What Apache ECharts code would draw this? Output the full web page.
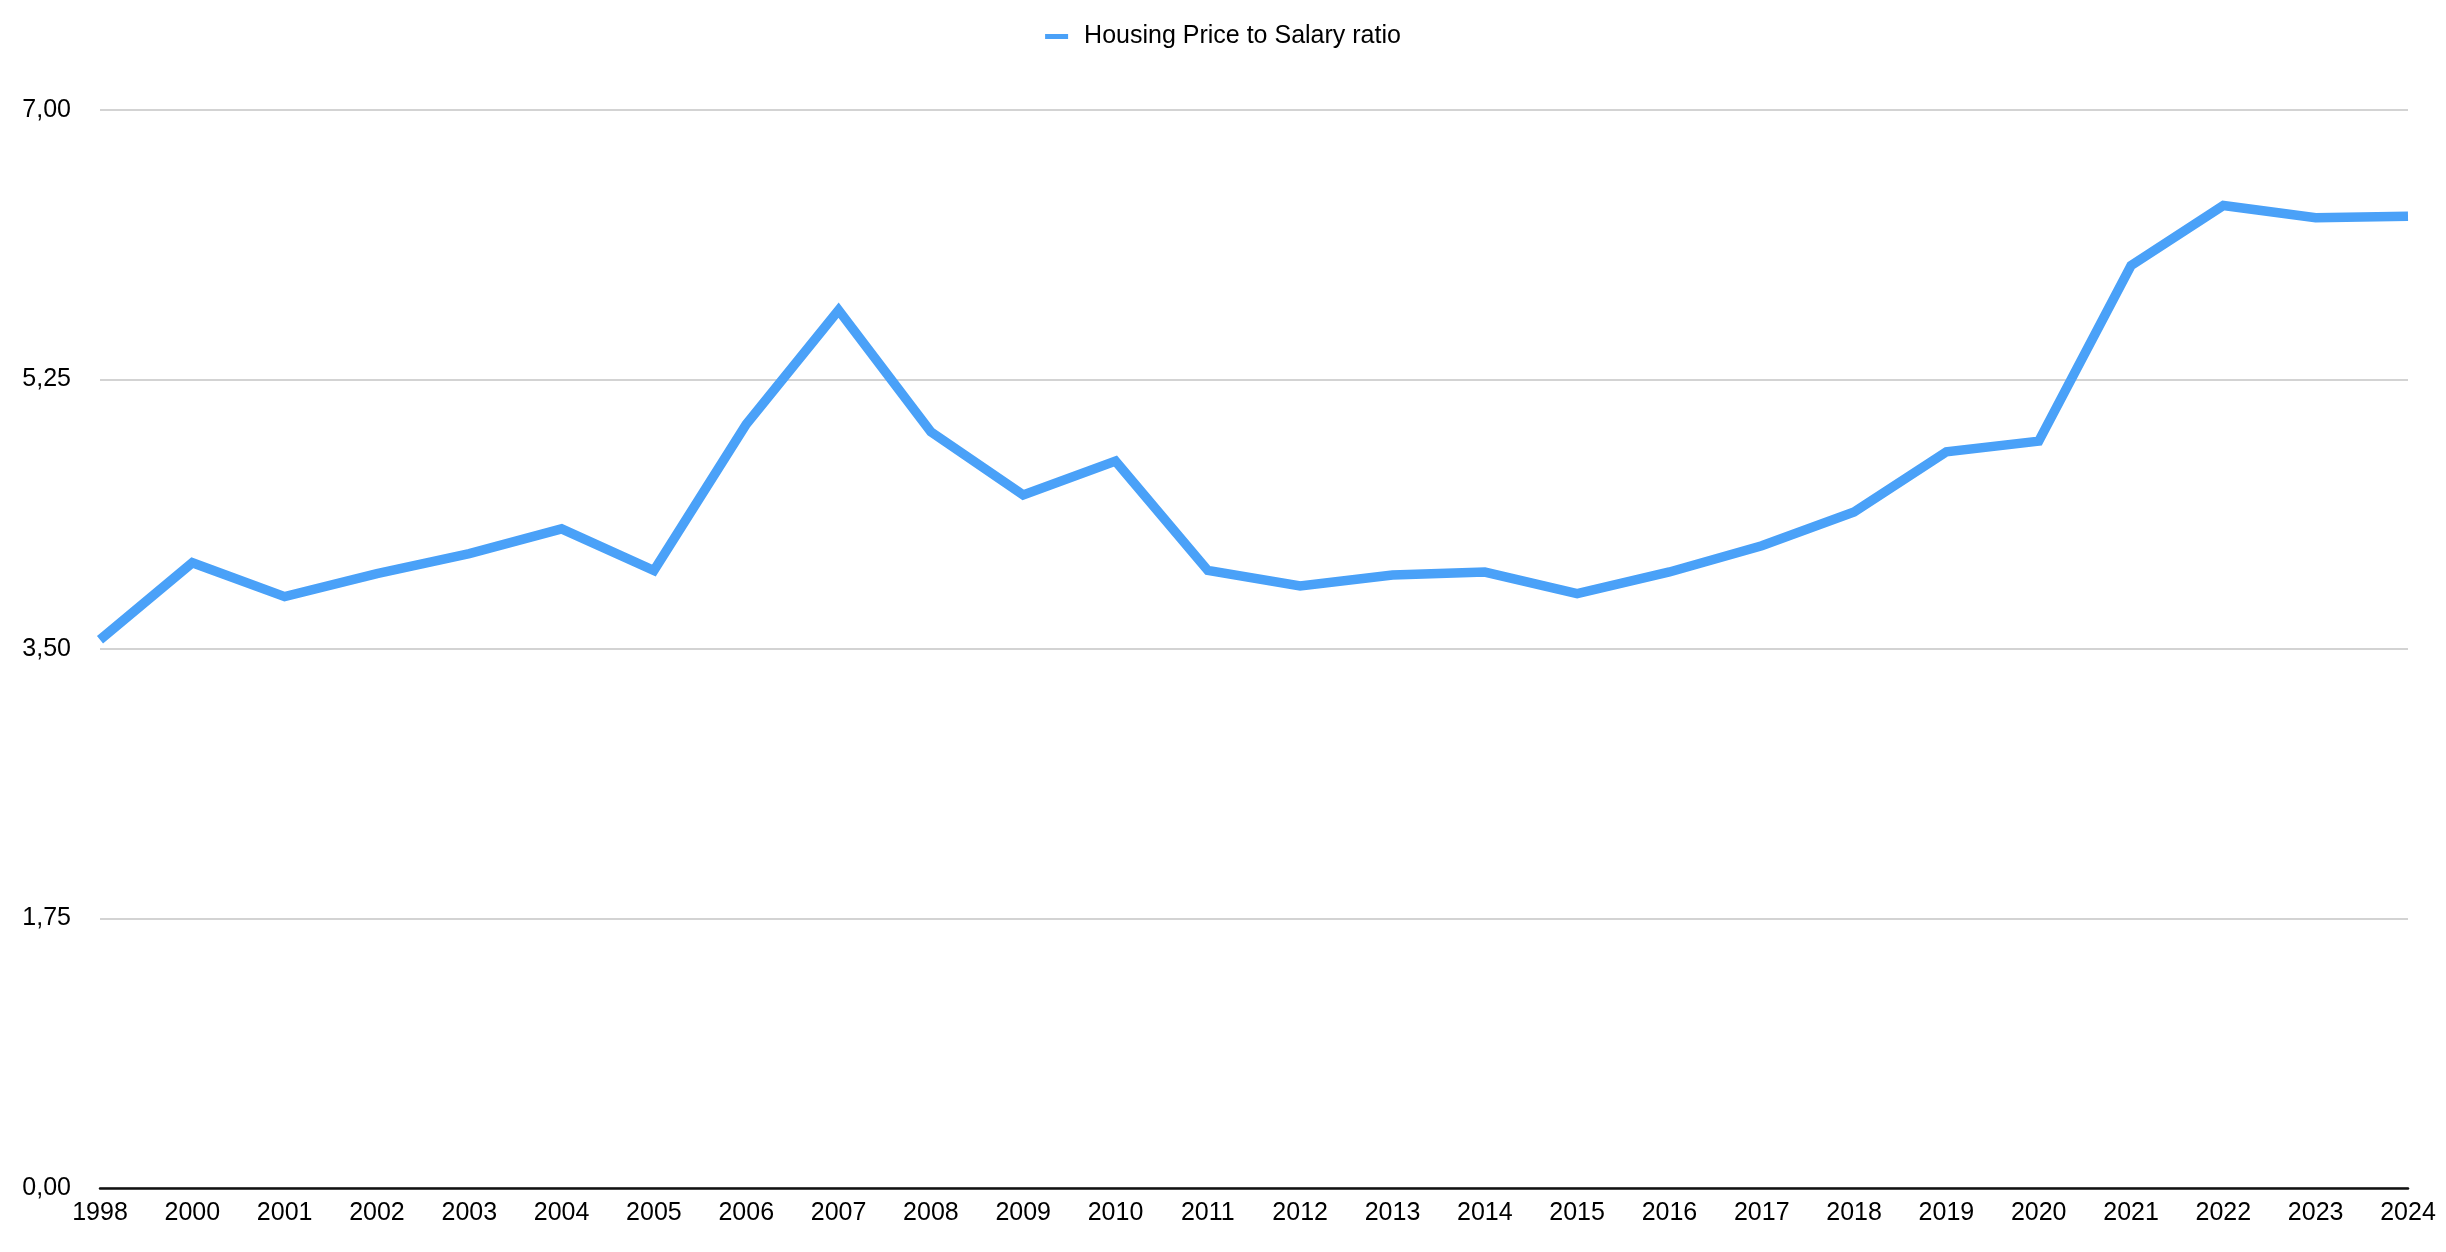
<!DOCTYPE html>
<html>
<head>
<meta charset="utf-8">
<title>Housing Price to Salary ratio</title>
<script src="https://cdn.jsdelivr.net/npm/echarts@6/dist/echarts.min.js"></script>
<style>
  html, body { margin: 0; padding: 0; background: #fff; }
  #main { width: 2446px; height: 1252px; }
</style>
</head>
<body>
<div id="main"></div>
<script>
// years on the category axis (1999 is missing in the source)
var years = ['1998', '2000', '2001', '2002', '2003', '2004', '2005', '2006', '2007',
  '2008', '2009', '2010', '2011', '2012', '2013', '2014', '2015', '2016', '2017',
  '2018', '2019', '2020', '2021', '2022', '2023', '2024'];

// housing price / salary
var ratio = [3.56, 4.06, 3.84, 3.99, 4.12, 4.28, 4.01, 4.96, 5.70,
  4.91, 4.50, 4.72, 4.01, 3.91, 3.98, 4.00, 3.86, 4.00, 4.17,
  4.39, 4.78, 4.85, 5.99, 6.38, 6.30, 6.31];

var seriesName = 'Housing Price to Salary ratio';
var yTicks = [0, 1.75, 3.5, 5.25, 7];

var font = 'Helvetica, "Liberation Sans", Arial, sans-serif';

var chart = echarts.init(document.getElementById('main'));
var option = {
  backgroundColor: '#ffffff',
  animation: false,
  textStyle: { fontFamily: font },
  legend: {
    top: 19,
    left: 'center',
    icon: 'rect',
    itemWidth: 23,
    itemHeight: 5,
    data: [seriesName],
    textStyle: {
      color: '#000',
      fontSize: 25,
      fontFamily: font,
      padding: [0, 0, 0, 11]
    }
  },
  grid: {
    left: 100,
    right: 38,
    top: 110,
    bottom: 64,
    containLabel: false
  },
  xAxis: {
    type: 'category',
    data: years,
    boundaryGap: false,
    axisLine: { show: true, lineStyle: { color: '#111', width: 2.5 } },
    axisTick: { show: false },
    axisLabel: {
      color: '#000',
      fontSize: 25,
      fontFamily: font,
      margin: 13,
      interval: 0
    },
    splitLine: { show: false }
  },
  yAxis: {
    type: 'value',
    min: yTicks[0],
    max: yTicks[yTicks.length - 1],
    interval: yTicks[1] - yTicks[0],
    axisLine: { show: false },
    axisTick: { show: false },
    axisLabel: {
      color: '#000',
      fontSize: 25,
      fontFamily: font,
      margin: 29,
      padding: [5, 0, 0, 0],
      formatter: function (v) {
        return v.toFixed(2).replace('.', ',');
      }
    },
    splitLine: { show: true, lineStyle: { color: '#c4c4c4', width: 1.5 } }
  },
  series: [{
    name: seriesName,
    type: 'line',
    data: ratio,
    showSymbol: false,
    symbol: 'none',
    color: '#4aa1f8',
    lineStyle: {
      color: '#4aa1f8',
      width: 9.5,
      join: 'miter',
      cap: 'butt'
    }
  }]
};
chart.setOption(option);
</script>
</body>
</html>
